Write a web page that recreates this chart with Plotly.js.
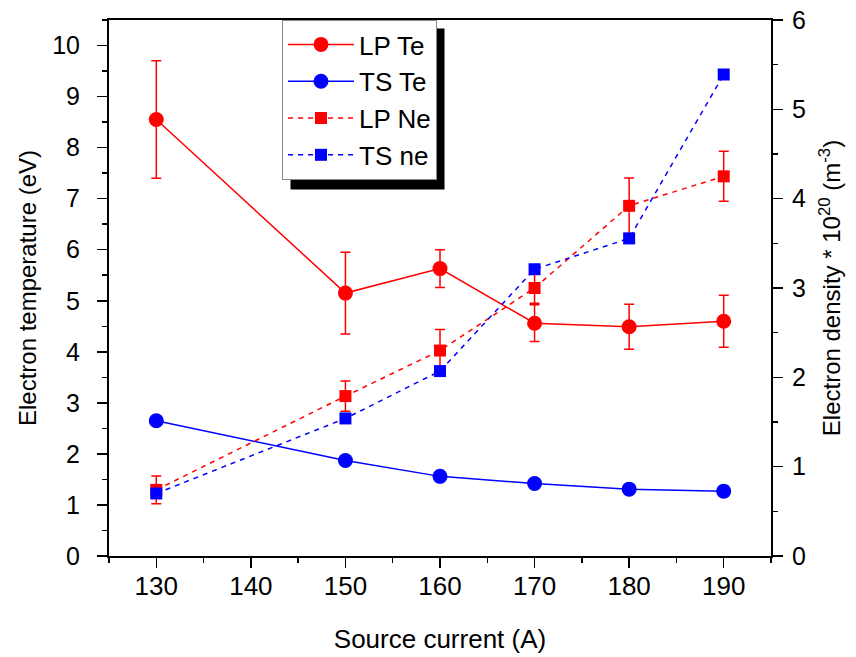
<!DOCTYPE html>
<html>
<head>
<meta charset="utf-8">
<script src="https://cdn.plot.ly/plotly-3.0.1.min.js"></script>
<style>body{margin:0;padding:0;background:#fff}#chart{width:856px;height:657px}</style>
</head>
<body>
<div id="chart"></div>
<script>
const sourceCurrent = [130, 150, 160, 170, 180, 190];
const lpTe = [8.55, 5.15, 5.63, 4.56, 4.49, 4.60];
const lpTeErr = [1.15, 0.80, 0.37, 0.36, 0.44, 0.51];
const tsTe = [2.65, 1.87, 1.56, 1.42, 1.31, 1.27];
const lpNe = [0.74, 1.79, 2.30, 3.00, 3.92, 4.25];
const lpNeErr = [0.155, 0.17, 0.235, 0.17, 0.31, 0.28];
const tsNe = [0.70, 1.54, 2.07, 3.21, 3.555, 5.39];
const seriesNames = ["LP Te", "TS Te", "LP Ne", "TS ne"];
const xTicks = [130, 140, 150, 160, 170, 180, 190];

const RED = "#ff0000", BLUE = "#0000ff";
const FONT = "Liberation Sans, Arial, sans-serif";

const traces = [
  {x: sourceCurrent, y: lpTe, name: seriesNames[0], type: "scatter", mode: "lines+markers",
   line: {color: RED, width: 1.5}, marker: {symbol: "circle", size: 15, color: RED},
   error_y: {type: "data", array: lpTeErr, visible: true, color: RED, thickness: 1.5, width: 5}},
  {x: sourceCurrent, y: tsTe, name: seriesNames[1], type: "scatter", mode: "lines+markers",
   line: {color: BLUE, width: 1.5}, marker: {symbol: "circle", size: 15, color: BLUE}},
  {x: sourceCurrent, y: lpNe, name: seriesNames[2], type: "scatter", mode: "lines+markers", yaxis: "y2",
   line: {color: RED, width: 1.5, dash: "5px,5px"}, marker: {symbol: "square", size: 12, color: RED},
   error_y: {type: "data", array: lpNeErr, visible: true, color: RED, thickness: 1.5, width: 5}},
  {x: sourceCurrent, y: tsNe, name: seriesNames[3], type: "scatter", mode: "lines+markers", yaxis: "y2",
   line: {color: BLUE, width: 1.5, dash: "5px,5px"}, marker: {symbol: "square", size: 12, color: BLUE}}
];

const L = 109, R = 85, T = 20, B = 101, W = 856, H = 657;
const pw = W - L - R, ph = H - T - B;
const px = v => (v - L) / pw;
const py = v => (H - B - v) / ph;

const tickStyle = {ticks: "outside", ticklen: 10, tickwidth: 1.5, tickcolor: "#000"};
const minorStyle = {ticks: "outside", ticklen: 5, tickwidth: 1.5, tickcolor: "#000"};

const layout = {
  width: W, height: H,
  margin: {l: L, r: R, t: T, b: B, pad: 0},
  paper_bgcolor: "#fff", plot_bgcolor: "#fff",
  font: {family: FONT, color: "#000", size: 24},
  showlegend: true,
  legend: {x: px(282), y: 1, xanchor: "left", yanchor: "top", bgcolor: "#fff",
           bordercolor: "#888", borderwidth: 1, font: {family: FONT, size: 26, color: "#000"},
           itemwidth: 66, tracegroupgap: 0},
  xaxis: Object.assign({range: [125, 195], tickmode: "array", tickvals: xTicks,
          ticktext: xTicks.map(String),
          showgrid: false, zeroline: false, showline: true, linecolor: "#000", linewidth: 2, mirror: true,
          minor: Object.assign({tickvals: [125,135,145,155,165,175,185,195]}, minorStyle),
          tickfont: {size: 26}, ticklabelstandoff: -4,
          title: {text: "Source current (A)", font: {size: 26}, standoff: 30}}, tickStyle),
  yaxis: Object.assign({range: [0, 10.5], tickvals: [0,1,2,3,4,5,6,7,8,9,10], showgrid: false, zeroline: false,
          showline: true, linecolor: "#000", linewidth: 2,
          minor: Object.assign({dtick: 0.5, tick0: 0}, minorStyle),
          tickfont: {size: 25}, ticklabelstandoff: 12,
          title: {text: "Electron temperature (eV)", font: {size: 24}, standoff: 9}}, tickStyle),
  yaxis2: Object.assign({range: [0, 6], tickvals: [0,1,2,3,4,5,6], overlaying: "y", side: "right", showgrid: false, zeroline: false,
           showline: true, linecolor: "#000", linewidth: 2,
           minor: Object.assign({dtick: 0.5, tick0: 0}, minorStyle),
           tickfont: {size: 25}, ticklabelstandoff: 4,
           title: {text: "Electron density * 10<sup>20</sup> (m<sup>-3</sup>)", font: {size: 24}, standoff: 18}}, tickStyle),
  shapes: []
};

Plotly.newPlot("chart", traces, layout, {displayModeBar: false, staticPlot: true}).then(gd => {
  const bg = document.querySelector(".legend .bg");
  const box = document.getElementById("chart").getBoundingClientRect();
  if (!bg) return;
  const r = bg.getBoundingClientRect();
  const x0 = r.left - box.left + 8, x1 = r.right - box.left + 8;
  const y0 = r.top - box.top + 8, y1 = r.bottom - box.top + 10;
  return Plotly.relayout(gd, {shapes: [
    {type: "rect", xref: "paper", yref: "paper", x0: px(x0), x1: px(x1), y0: py(y1), y1: py(y0),
     fillcolor: "#000", line: {width: 0}, layer: "above"}
  ]});
});
</script>
</body>
</html>
